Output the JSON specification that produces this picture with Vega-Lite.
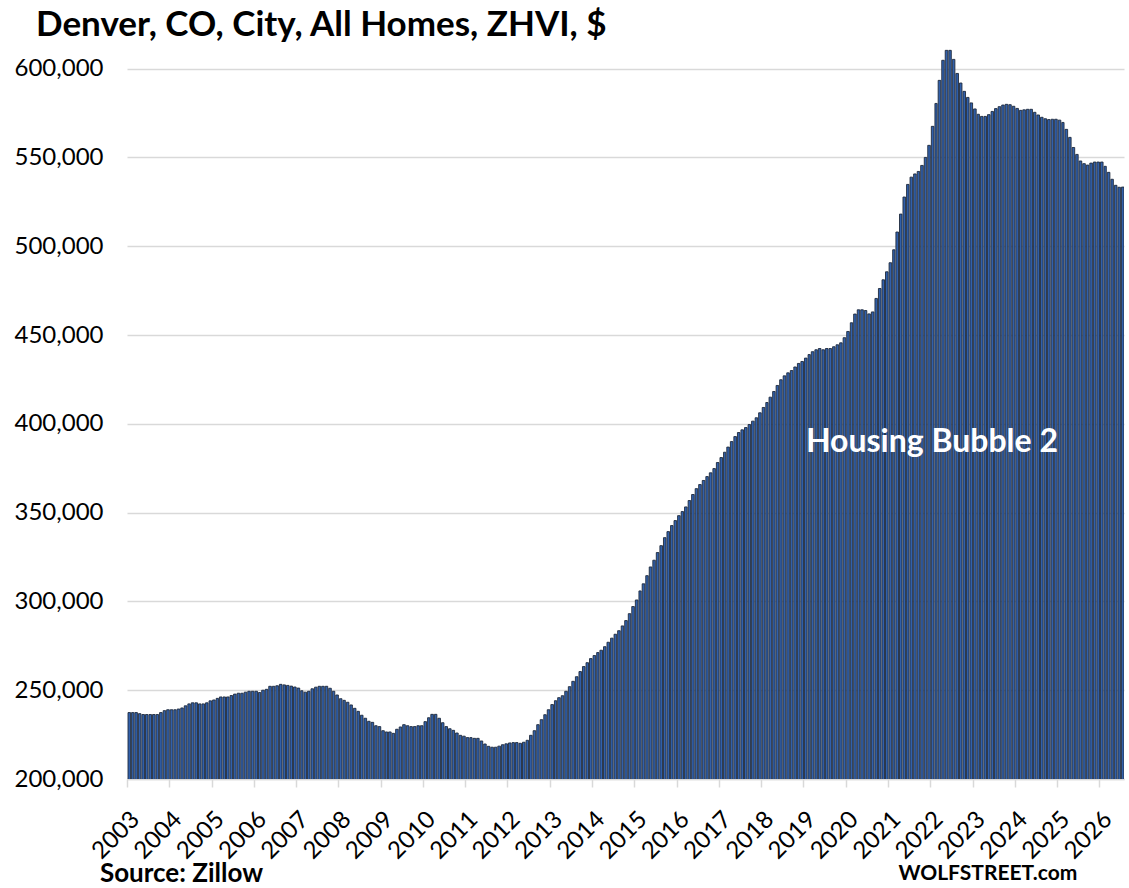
{
  "$schema": "https://vega.github.io/schema/vega-lite/v6.json",
  "width": 997,
  "height": 737,
  "autosize": {"type": "none"},
  "padding": {"left": 127, "top": 42, "right": 5, "bottom": 109},
  "background": "white",
  "config": {"view": {"stroke": null}, "font": "Lato"},
  "title": {"text": "Denver, CO, City, All Homes, ZHVI, $", "anchor": "start", "frame": "group", "dx": -91, "fontSize": 35, "fontWeight": "bold", "font": "Lato", "color": "black", "offset": -1},
  "data": {"values": [
    {"date":"2003-01-01","value":237400},{"date":"2003-02-01","value":237400},{"date":"2003-03-01","value":237400},{"date":"2003-04-01","value":236800},{"date":"2003-05-01","value":236300},{"date":"2003-06-01","value":236300},{"date":"2003-07-01","value":236300},{"date":"2003-08-01","value":236300},{"date":"2003-09-01","value":236300},{"date":"2003-10-01","value":237400},{"date":"2003-11-01","value":238500},{"date":"2003-12-01","value":239000},
    {"date":"2004-01-01","value":239000},{"date":"2004-02-01","value":239000},{"date":"2004-03-01","value":239400},{"date":"2004-04-01","value":240000},{"date":"2004-05-01","value":241200},{"date":"2004-06-01","value":242300},{"date":"2004-07-01","value":242900},{"date":"2004-08-01","value":242900},{"date":"2004-09-01","value":242300},{"date":"2004-10-01","value":242300},{"date":"2004-11-01","value":242900},{"date":"2004-12-01","value":244000},
    {"date":"2005-01-01","value":244500},{"date":"2005-02-01","value":245400},{"date":"2005-03-01","value":246200},{"date":"2005-04-01","value":246200},{"date":"2005-05-01","value":246200},{"date":"2005-06-01","value":247000},{"date":"2005-07-01","value":247800},{"date":"2005-08-01","value":248300},{"date":"2005-09-01","value":248300},{"date":"2005-10-01","value":248900},{"date":"2005-11-01","value":249400},{"date":"2005-12-01","value":249400},
    {"date":"2006-01-01","value":249400},{"date":"2006-02-01","value":248700},{"date":"2006-03-01","value":250000},{"date":"2006-04-01","value":250500},{"date":"2006-05-01","value":252200},{"date":"2006-06-01","value":252200},{"date":"2006-07-01","value":252500},{"date":"2006-08-01","value":253300},{"date":"2006-09-01","value":253000},{"date":"2006-10-01","value":252700},{"date":"2006-11-01","value":252300},{"date":"2006-12-01","value":251800},
    {"date":"2007-01-01","value":251200},{"date":"2007-02-01","value":249700},{"date":"2007-03-01","value":248900},{"date":"2007-04-01","value":249400},{"date":"2007-05-01","value":250800},{"date":"2007-06-01","value":251700},{"date":"2007-07-01","value":252200},{"date":"2007-08-01","value":252200},{"date":"2007-09-01","value":252200},{"date":"2007-10-01","value":251100},{"date":"2007-11-01","value":249400},{"date":"2007-12-01","value":247300},
    {"date":"2008-01-01","value":245200},{"date":"2008-02-01","value":244300},{"date":"2008-03-01","value":243200},{"date":"2008-04-01","value":241700},{"date":"2008-05-01","value":239800},{"date":"2008-06-01","value":238100},{"date":"2008-07-01","value":235900},{"date":"2008-08-01","value":234200},{"date":"2008-09-01","value":232500},{"date":"2008-10-01","value":231900},{"date":"2008-11-01","value":230000},{"date":"2008-12-01","value":229500},
    {"date":"2009-01-01","value":227200},{"date":"2009-02-01","value":226500},{"date":"2009-03-01","value":226500},{"date":"2009-04-01","value":225700},{"date":"2009-05-01","value":228000},{"date":"2009-06-01","value":229300},{"date":"2009-07-01","value":230600},{"date":"2009-08-01","value":230000},{"date":"2009-09-01","value":229500},{"date":"2009-10-01","value":229500},{"date":"2009-11-01","value":230000},{"date":"2009-12-01","value":230000},
    {"date":"2010-01-01","value":232300},{"date":"2010-02-01","value":234500},{"date":"2010-03-01","value":236400},{"date":"2010-04-01","value":236400},{"date":"2010-05-01","value":234200},{"date":"2010-06-01","value":231700},{"date":"2010-07-01","value":229500},{"date":"2010-08-01","value":228300},{"date":"2010-09-01","value":227400},{"date":"2010-10-01","value":225900},{"date":"2010-11-01","value":224600},{"date":"2010-12-01","value":224100},
    {"date":"2011-01-01","value":223300},{"date":"2011-02-01","value":223300},{"date":"2011-03-01","value":222900},{"date":"2011-04-01","value":222900},{"date":"2011-05-01","value":221400},{"date":"2011-06-01","value":219700},{"date":"2011-07-01","value":218400},{"date":"2011-08-01","value":217900},{"date":"2011-09-01","value":217900},{"date":"2011-10-01","value":218500},{"date":"2011-11-01","value":219300},{"date":"2011-12-01","value":219800},
    {"date":"2012-01-01","value":220300},{"date":"2012-02-01","value":220500},{"date":"2012-03-01","value":220500},{"date":"2012-04-01","value":220100},{"date":"2012-05-01","value":220700},{"date":"2012-06-01","value":221800},{"date":"2012-07-01","value":224600},{"date":"2012-08-01","value":227200},{"date":"2012-09-01","value":230600},{"date":"2012-10-01","value":233400},{"date":"2012-11-01","value":236200},{"date":"2012-12-01","value":239000},
    {"date":"2013-01-01","value":241900},{"date":"2013-02-01","value":244100},{"date":"2013-03-01","value":245800},{"date":"2013-04-01","value":246900},{"date":"2013-05-01","value":249400},{"date":"2013-06-01","value":252000},{"date":"2013-07-01","value":255000},{"date":"2013-08-01","value":257600},{"date":"2013-09-01","value":260500},{"date":"2013-10-01","value":263300},{"date":"2013-11-01","value":265500},{"date":"2013-12-01","value":267800},
    {"date":"2014-01-01","value":269500},{"date":"2014-02-01","value":271200},{"date":"2014-03-01","value":272500},{"date":"2014-04-01","value":274500},{"date":"2014-05-01","value":277000},{"date":"2014-06-01","value":279300},{"date":"2014-07-01","value":281500},{"date":"2014-08-01","value":283500},{"date":"2014-09-01","value":286200},{"date":"2014-10-01","value":289200},{"date":"2014-11-01","value":293100},{"date":"2014-12-01","value":297100},
    {"date":"2015-01-01","value":300800},{"date":"2015-02-01","value":305900},{"date":"2015-03-01","value":309900},{"date":"2015-04-01","value":314500},{"date":"2015-05-01","value":319400},{"date":"2015-06-01","value":323200},{"date":"2015-07-01","value":327500},{"date":"2015-08-01","value":331400},{"date":"2015-09-01","value":335900},{"date":"2015-10-01","value":339300},{"date":"2015-11-01","value":342700},{"date":"2015-12-01","value":345500},
    {"date":"2016-01-01","value":348300},{"date":"2016-02-01","value":350600},{"date":"2016-03-01","value":353200},{"date":"2016-04-01","value":356800},{"date":"2016-05-01","value":360200},{"date":"2016-06-01","value":363500},{"date":"2016-07-01","value":365800},{"date":"2016-08-01","value":368100},{"date":"2016-09-01","value":370300},{"date":"2016-10-01","value":372400},{"date":"2016-11-01","value":374800},{"date":"2016-12-01","value":378200},
    {"date":"2017-01-01","value":381000},{"date":"2017-02-01","value":384000},{"date":"2017-03-01","value":386900},{"date":"2017-04-01","value":390000},{"date":"2017-05-01","value":392800},{"date":"2017-06-01","value":395100},{"date":"2017-07-01","value":396600},{"date":"2017-08-01","value":397900},{"date":"2017-09-01","value":399600},{"date":"2017-10-01","value":401500},{"date":"2017-11-01","value":403400},{"date":"2017-12-01","value":406200},
    {"date":"2018-01-01","value":409200},{"date":"2018-02-01","value":412000},{"date":"2018-03-01","value":415000},{"date":"2018-04-01","value":418200},{"date":"2018-05-01","value":421600},{"date":"2018-06-01","value":424800},{"date":"2018-07-01","value":427000},{"date":"2018-08-01","value":428700},{"date":"2018-09-01","value":430000},{"date":"2018-10-01","value":432000},{"date":"2018-11-01","value":434000},{"date":"2018-12-01","value":435100},
    {"date":"2019-01-01","value":437000},{"date":"2019-02-01","value":439000},{"date":"2019-03-01","value":440600},{"date":"2019-04-01","value":441700},{"date":"2019-05-01","value":442400},{"date":"2019-06-01","value":441700},{"date":"2019-07-01","value":442400},{"date":"2019-08-01","value":442400},{"date":"2019-09-01","value":443400},{"date":"2019-10-01","value":444500},{"date":"2019-11-01","value":445600},{"date":"2019-12-01","value":448500},
    {"date":"2020-01-01","value":452000},{"date":"2020-02-01","value":456900},{"date":"2020-03-01","value":461800},{"date":"2020-04-01","value":464200},{"date":"2020-05-01","value":464200},{"date":"2020-06-01","value":463800},{"date":"2020-07-01","value":461900},{"date":"2020-08-01","value":463000},{"date":"2020-09-01","value":470600},{"date":"2020-10-01","value":476200},{"date":"2020-11-01","value":481100},{"date":"2020-12-01","value":485600},
    {"date":"2021-01-01","value":490700},{"date":"2021-02-01","value":498000},{"date":"2021-03-01","value":508000},{"date":"2021-04-01","value":518100},{"date":"2021-05-01","value":527700},{"date":"2021-06-01","value":534800},{"date":"2021-07-01","value":538900},{"date":"2021-08-01","value":540700},{"date":"2021-09-01","value":542100},{"date":"2021-10-01","value":545500},{"date":"2021-11-01","value":550000},{"date":"2021-12-01","value":556800},
    {"date":"2022-01-01","value":567500},{"date":"2022-02-01","value":580400},{"date":"2022-03-01","value":593400},{"date":"2022-04-01","value":604700},{"date":"2022-05-01","value":610300},{"date":"2022-06-01","value":610300},{"date":"2022-07-01","value":605200},{"date":"2022-08-01","value":597300},{"date":"2022-09-01","value":591900},{"date":"2022-10-01","value":587200},{"date":"2022-11-01","value":583800},{"date":"2022-12-01","value":580700},
    {"date":"2023-01-01","value":577300},{"date":"2023-02-01","value":574300},{"date":"2023-03-01","value":573100},{"date":"2023-04-01","value":573100},{"date":"2023-05-01","value":574100},{"date":"2023-06-01","value":575900},{"date":"2023-07-01","value":577500},{"date":"2023-08-01","value":578600},{"date":"2023-09-01","value":579500},{"date":"2023-10-01","value":579900},{"date":"2023-11-01","value":579700},{"date":"2023-12-01","value":578800},
    {"date":"2024-01-01","value":577600},{"date":"2024-02-01","value":576500},{"date":"2024-03-01","value":576800},{"date":"2024-04-01","value":577100},{"date":"2024-05-01","value":577100},{"date":"2024-06-01","value":575400},{"date":"2024-07-01","value":573900},{"date":"2024-08-01","value":572600},{"date":"2024-09-01","value":571800},{"date":"2024-10-01","value":571300},{"date":"2024-11-01","value":571500},{"date":"2024-12-01","value":571500},
    {"date":"2025-01-01","value":571000},{"date":"2025-02-01","value":569700},{"date":"2025-03-01","value":565800},{"date":"2025-04-01","value":561300},{"date":"2025-05-01","value":555600},{"date":"2025-06-01","value":551700},{"date":"2025-07-01","value":548000},{"date":"2025-08-01","value":546500},{"date":"2025-09-01","value":545700},{"date":"2025-10-01","value":546800},{"date":"2025-11-01","value":547400},{"date":"2025-12-01","value":547400},
    {"date":"2026-01-01","value":547400},{"date":"2026-02-01","value":545000},{"date":"2026-03-01","value":541600},{"date":"2026-04-01","value":537700},{"date":"2026-05-01","value":534300},{"date":"2026-06-01","value":533200},{"date":"2026-07-01","value":533300}
  ]},
  "layer": [
    {
      "mark": {"type": "bar", "fill": "#3160ab", "stroke": "#1f2a3c", "strokeWidth": 0.9, "clip": true},
      "encoding": {
        "x": {
          "field": "date", "timeUnit": "yearmonth", "type": "temporal",
          "scale": {"domain": [{"year": 2003, "month": 1, "date": 1}, {"year": 2026, "month": 8, "date": 1}]},
          "axis": {"title": null, "format": "%Y", "tickCount": {"interval": "year", "step": 1}, "labelAngle": -45, "labelFontSize": 24, "labelFont": "Lato", "labelColor": "black", "tickColor": "#d9d9d9", "tickSize": 8, "tickWidth": 1.5, "domainColor": "#d9d9d9", "domainWidth": 1.5, "grid": false, "labelPadding": 20, "labelOverlap": false, "labelBound": false, "labelFlush": false}
        },
        "y": {
          "field": "value", "type": "quantitative",
          "scale": {"domain": [200000, 615000], "nice": false, "zero": false},
          "axis": {"title": null, "values": [200000, 250000, 300000, 350000, 400000, 450000, 500000, 550000, 600000], "format": ",d", "labelFontSize": 24, "labelFont": "Lato", "labelColor": "black", "ticks": false, "domain": false, "gridColor": "#d9d9d9", "gridWidth": 1.5, "labelPadding": 24}
        }
      }
    },
    {
      "data": {"values": [{"label": "Housing Bubble 2", "date": "2022-01-15", "value": 390000}]},
      "mark": {"type": "text", "font": "Lato", "fontSize": 32, "fontWeight": "bold", "color": "white", "align": "center", "baseline": "middle"},
      "encoding": {
        "x": {"field": "date", "type": "temporal"},
        "y": {"field": "value", "type": "quantitative"},
        "text": {"field": "label"}
      }
    },
    {
      "data": {"values": [{"label": "Source: Zillow", "date": "2002-05-12", "value": 146500}]},
      "mark": {"type": "text", "font": "Lato", "fontSize": 26, "fontWeight": "bold", "color": "black", "align": "left", "baseline": "middle"},
      "encoding": {
        "x": {"field": "date", "type": "temporal"},
        "y": {"field": "value", "type": "quantitative"},
        "text": {"field": "label"}
      }
    },
    {
      "data": {"values": [{"label": "WOLFSTREET.com", "date": "2025-06-24", "value": 146500}]},
      "mark": {"type": "text", "font": "Lato", "fontSize": 21, "fontWeight": "bold", "color": "black", "align": "right", "baseline": "middle"},
      "encoding": {
        "x": {"field": "date", "type": "temporal"},
        "y": {"field": "value", "type": "quantitative"},
        "text": {"field": "label"}
      }
    }
  ]
}
